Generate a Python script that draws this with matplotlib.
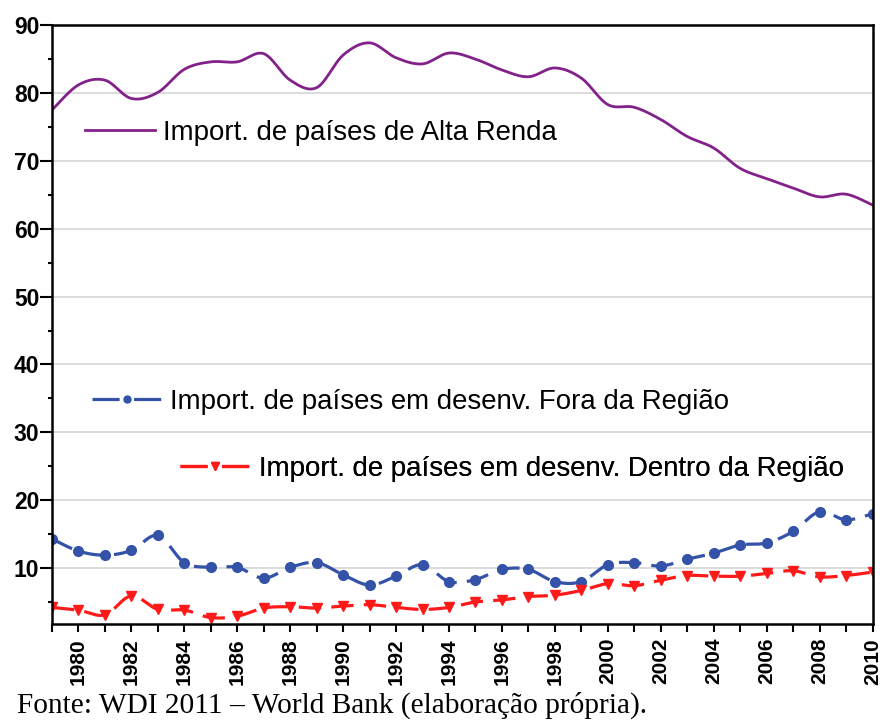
import numpy as np
import matplotlib.pyplot as plt
from matplotlib.lines import Line2D
from matplotlib.ticker import MultipleLocator

years = list(range(1979, 2011))

# Import. de países de Alta Renda
alta_renda = [77.5, 81.2, 81.9, 79.2, 80.1, 83.5, 84.6, 84.6, 85.8, 81.9,
              80.8, 85.6, 87.4, 85.2, 84.3, 85.9, 85.0, 83.4, 82.4, 83.7,
              82.2, 78.3, 77.9, 76.1, 73.6, 71.9, 68.9, 67.4, 66.0, 64.7,
              65.1, 63.5]
# Import. de países em desenv. Fora da Região
fora_regiao = [14.3, 12.5, 11.9, 12.6, 14.8, 10.8, 10.1, 10.1, 8.5, 10.1,
               10.8, 9.0, 7.5, 8.8, 10.5, 8.0, 8.3, 9.8, 9.8, 8.0,
               8.0, 10.5, 10.8, 10.3, 11.3, 12.2, 13.4, 13.7, 15.4, 18.3,
               17.1, 18.0]
# Import. de países em desenv. Dentro da Região
dentro_regiao = [4.2, 3.8, 3.1, 5.9, 3.9, 3.8, 2.7, 2.9, 4.1, 4.3,
                 4.1, 4.4, 4.6, 4.2, 3.9, 4.2, 5.0, 5.3, 5.8, 6.0,
                 6.7, 7.7, 7.4, 8.2, 8.9, 8.8, 8.8, 9.2, 9.6, 8.7,
                 8.9, 9.4]

labels = ["Import. de países de Alta Renda",
          "Import. de países em desenv. Fora da Região",
          "Import. de países em desenv. Dentro da Região"]
source = "Fonte: WDI 2011 – World Bank (elaboração própria)."


def smooth(x, y, n=24):
    # catmull-rom, roughly like excel's smoothed lines
    x = np.asarray(x, float)
    y = np.asarray(y, float)
    res = []
    for p in (x, y):
        p = np.concatenate([[p[0]], p, [p[-1]]])
        t = np.linspace(0, 1, n, endpoint=False)[:, None]
        p0, p1, p2, p3 = p[:-3], p[1:-2], p[2:-1], p[3:]
        seg = 0.5 * (2 * p1 + (-p0 + p2) * t
                     + (2 * p0 - 5 * p1 + 4 * p2 - p3) * t ** 2
                     + (-p0 + 3 * p1 - 3 * p2 + p3) * t ** 3)
        res.append(np.concatenate([seg.T.ravel(), [p[-2]]]))
    return res[0], res[1]


plt.rcParams['font.family'] = ['Liberation Sans', 'DejaVu Sans']

purple = '#83218a'
blue = '#3352a8'
red = '#ff1a1a'

fig = plt.figure(figsize=(8.84, 7.2), dpi=100)
ax = fig.add_axes([0.0588, 0.1333, 0.9282, 0.8317])

sx, sy = smooth(years, alta_renda)
ax.plot(sx, sy, color=purple, lw=2.0)

sx, sy = smooth(years, fora_regiao)
ax.plot(sx, sy, color=blue, lw=2.3, dashes=(7, 3.2))
ax.plot(years, fora_regiao, 'o', color=blue, ms=7, mec=blue)

sx, sy = smooth(years, dentro_regiao)
ax.plot(sx, sy, color=red, lw=2.3, dashes=(7, 3.2))
ax.plot(years, dentro_regiao, 'v', color=red, ms=7.5, mec=red)

ax.set_xlim(1979, 2010)
ax.set_ylim(1.75, 90)

ax.xaxis.set_major_locator(MultipleLocator(2))
ax.xaxis.set_minor_locator(MultipleLocator(1))
ax.yaxis.set_minor_locator(MultipleLocator(5))
ax.set_yticks(range(10, 91, 10))

ax.tick_params(axis='x', which='both', direction='out', length=6, width=1.5,
               labelsize=15, pad=4, labelrotation=90)
ax.tick_params(axis='y', which='major', direction='out', length=9, width=1.5,
               labelsize=16.5, pad=0)
ax.tick_params(axis='y', which='minor', direction='out', length=3, width=1.5)
for lab in ax.get_xticklabels() + ax.get_yticklabels():
    lab.set_fontweight('bold')

ax.grid(axis='y', which='major', color='#d9d9d9', lw=1.3)
ax.set_axisbelow(True)
for s in ax.spines.values():
    s.set_linewidth(1.8)
    s.set_color('black')

# three separate legend entries placed inside the plot
h1 = Line2D([], [], color=purple, lw=2.0)
h2 = Line2D([], [], color=blue, lw=2.3, marker='o', ms=5, dashes=(8.5, 4.5))
h3 = Line2D([], [], color=red, lw=2.3, marker='v', ms=5.5, dashes=(8.5, 4.5))
spots = [(0.04, 0.82), (0.0485, 0.371), (0.1566, 0.259)]
for h, lab, (lx, ly) in zip([h1, h2, h3], labels, spots):
    leg = ax.legend(handles=[h], labels=[lab], loc='center left',
                    bbox_to_anchor=(lx, ly), frameon=False, fontsize=19.9,
                    handlelength=2.53, handletextpad=0.3, borderpad=0,
                    borderaxespad=0)
    ax.add_artist(leg)

fig.text(0.019, 0.021, source, family='Liberation Serif', fontsize=21.2,
         va='center', ha='left')

fig.savefig('out.png', dpi=100)
